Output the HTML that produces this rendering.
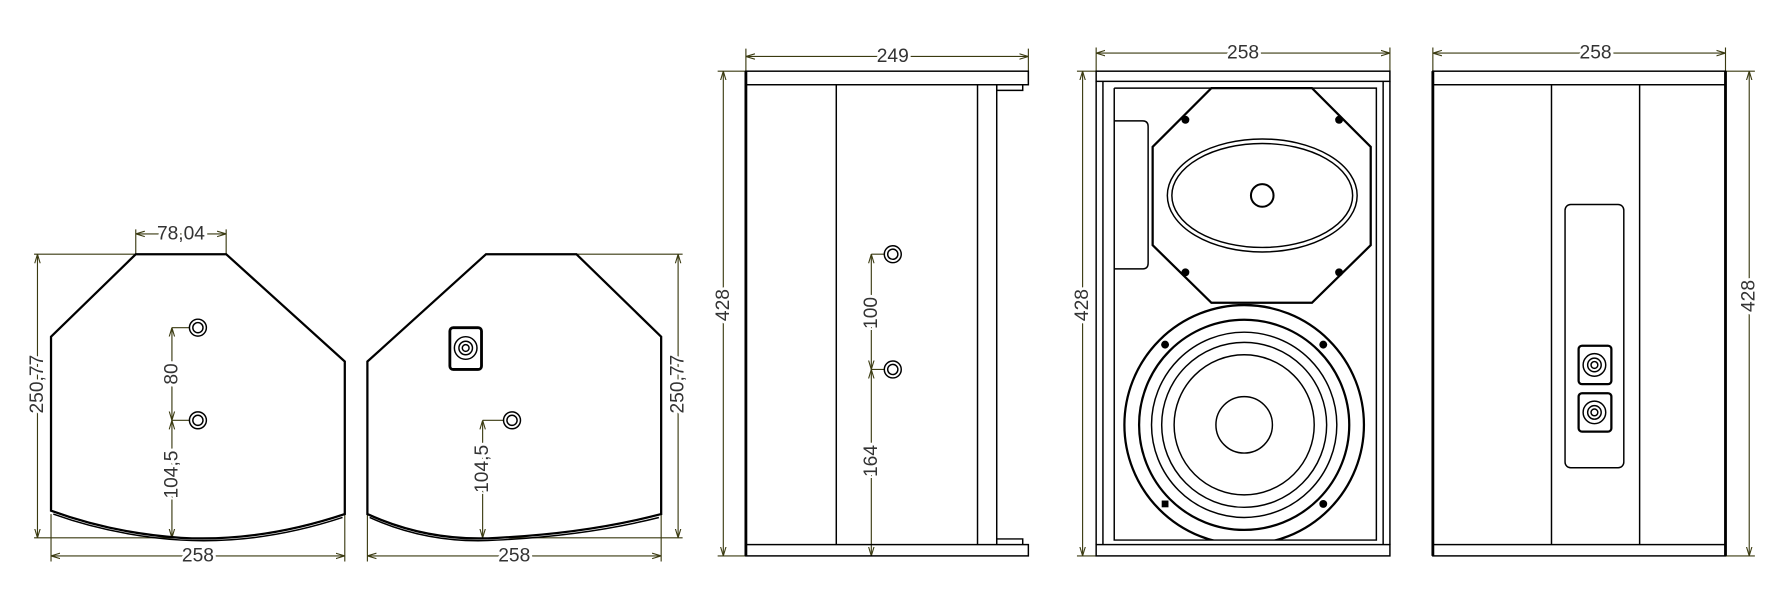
<!DOCTYPE html>
<html><head><meta charset="utf-8"><style>html,body{margin:0;padding:0;background:#fff}svg{display:block}</style></head>
<body>
<svg width="1772" height="609" viewBox="0 0 1568 539" xmlns="http://www.w3.org/2000/svg">
<defs>
<marker id="a" viewBox="0 0 10 10" refX="10" refY="5" markerWidth="8" markerHeight="8" orient="auto-start-reverse" markerUnits="userSpaceOnUse"><path d="M0,2 L10,5 L0,8" fill="none" stroke="#3a3a10" stroke-width="1.2"/></marker>
</defs>
<rect width="1568" height="539" fill="#fff"/>
<g fill="none" stroke="#3a3a10" stroke-width="1">
<!-- profile 1 dims -->
<path d="M120,225V203M200,225V203M30,225H120M30,476H160M45,455V497M305,455V497"/>
<path d="M120,207H200" marker-start="url(#a)" marker-end="url(#a)"/>
<path d="M33,225V476" marker-start="url(#a)" marker-end="url(#a)"/>
<path d="M45,492H305" marker-start="url(#a)" marker-end="url(#a)"/>
<path d="M152,290V372" marker-start="url(#a)" marker-end="url(#a)"/>
<path d="M152,372V476" marker-start="url(#a)" marker-end="url(#a)"/>
<path d="M152,290H168M152,372H168"/>
<!-- profile 2 dims -->
<path d="M510,225H604M440,476H604M325,455V497M585,455V497"/>
<path d="M600,225V476" marker-start="url(#a)" marker-end="url(#a)"/>
<path d="M325,492H585" marker-start="url(#a)" marker-end="url(#a)"/>
<path d="M427,372V476" marker-start="url(#a)" marker-end="url(#a)"/>
<path d="M427,372H446"/>
<!-- side dims -->
<path d="M660,63V43M910,72V43M635,63H660M635,492H660"/>
<path d="M660,50H910" marker-start="url(#a)" marker-end="url(#a)"/>
<path d="M640,63V492" marker-start="url(#a)" marker-end="url(#a)"/>
<path d="M771,225V327" marker-start="url(#a)" marker-end="url(#a)"/>
<path d="M771,327V492" marker-start="url(#a)" marker-end="url(#a)"/>
<path d="M771,225H783M771,327H783"/>
<!-- front dims -->
<path d="M970,63V42M1230,72V42M953,63H970M953,492H970"/>
<path d="M970,47H1230" marker-start="url(#a)" marker-end="url(#a)"/>
<path d="M958,63V492" marker-start="url(#a)" marker-end="url(#a)"/>
<!-- back dims -->
<path d="M1268,63V42M1527,72V42M1527,63H1553M1527,492H1553"/>
<path d="M1268,47H1527" marker-start="url(#a)" marker-end="url(#a)"/>
<path d="M1548,63V492" marker-start="url(#a)" marker-end="url(#a)"/>
</g>
<g font-family="Liberation Sans, sans-serif" font-size="17" fill="#333" text-anchor="middle" stroke="#fff" stroke-width="5" paint-order="stroke" dominant-baseline="central">
<text x="160" y="207">78,04</text>
<text x="175" y="492">258</text>
<text x="455" y="492">258</text>
<text x="790" y="50">249</text>
<text x="1100" y="47">258</text>
<text x="1412" y="47">258</text>
<text transform="translate(33,340) rotate(-90)">250,77</text>
<text transform="translate(600,340) rotate(-90)">250,77</text>
<text transform="translate(152,331) rotate(-90)">80</text>
<text transform="translate(152,420) rotate(-90)">104,5</text>
<text transform="translate(427,415) rotate(-90)">104,5</text>
<text transform="translate(640,270) rotate(-90)">428</text>
<text transform="translate(958,270) rotate(-90)">428</text>
<text transform="translate(1548,262) rotate(-90)">428</text>
<text transform="translate(771,277) rotate(-90)">100</text>
<text transform="translate(771,408) rotate(-90)">164</text>
</g>
<g fill="none" stroke="#000" stroke-width="1.3">
<!-- profile 1 -->
<path d="M120,225H200L305,320V455Q230,480 160,476Q100,472 45,452V298Z" stroke-width="2"/>
<path d="M47,455Q100,474 160,478Q230,482 303,458"/>
<circle cx="175" cy="290" r="7.5"/><circle cx="175" cy="290" r="4.5"/>
<circle cx="175" cy="372" r="7.5"/><circle cx="175" cy="372" r="4.5"/>
<!-- profile 2 -->
<path d="M430,225H510L585,298V455Q520,472 440,476Q380,480 325,455V320Z" stroke-width="2"/>
<path d="M327,458Q380,482 440,478Q520,474 583,458"/>
<rect x="398" y="290" width="28" height="37" rx="3" stroke-width="2.5"/>
<circle cx="412" cy="308" r="10"/><circle cx="412" cy="308" r="6"/><circle cx="412" cy="308" r="3"/>
<circle cx="453" cy="372" r="7.5"/><circle cx="453" cy="372" r="4.5"/>
<!-- side view -->
<rect x="660" y="63" width="250" height="12"/>
<rect x="660" y="482" width="250" height="10"/>
<path d="M882,75V80H905V75M882,482V477H905V482"/>
<path d="M660,63V492" stroke-width="2.5"/>
<path d="M740,75V482M865,75V482M882,75V482"/>
<circle cx="790" cy="225" r="7.5"/><circle cx="790" cy="225" r="4.5"/>
<circle cx="790" cy="327" r="7.5"/><circle cx="790" cy="327" r="4.5"/>
<!-- front view -->
<rect x="970" y="63" width="260" height="9"/>
<rect x="970" y="482" width="260" height="10"/>
<path d="M970,72V482M976,72V482M986,78V478H1218V78H986M1224,72V482M1230,72V482"/>
<path d="M986,107H1011Q1016,107 1016,112V233Q1016,238 1011,238H986"/>
<path d="M1072,78H1161L1213,130V217L1161,268H1072L1020,217V130Z" stroke-width="2"/>
<ellipse cx="1117" cy="173" rx="84" ry="50"/><ellipse cx="1117" cy="173" rx="80" ry="46"/>
<circle cx="1117" cy="173" r="10" stroke-width="1.8"/>
<g fill="#000" stroke="none"><circle cx="1049" cy="106" r="3.5"/><circle cx="1185" cy="106" r="3.5"/><circle cx="1049" cy="241" r="3.5"/><circle cx="1185" cy="241" r="3.5"/>
<circle cx="1031" cy="305" r="3.5"/><circle cx="1171" cy="305" r="3.5"/><rect x="1028" y="443" width="6" height="6"/><circle cx="1171" cy="446" r="3.5"/></g>
<clipPath id="c"><rect x="986" y="260" width="232" height="218"/></clipPath>
<g clip-path="url(#c)">
<circle cx="1101" cy="376" r="106" stroke-width="2"/>
<circle cx="1101" cy="376" r="93" stroke-width="2"/>
<circle cx="1101" cy="376" r="82"/>
<circle cx="1101" cy="376" r="73"/>
<circle cx="1101" cy="376" r="62"/>
<circle cx="1101" cy="376" r="25"/>
</g>
<!-- back view -->
<rect x="1268" y="63" width="259" height="12"/>
<rect x="1268" y="482" width="259" height="10"/>
<path d="M1268,63V492M1527,63V492" stroke-width="2.5"/>
<path d="M1373,75V482M1451,75V482"/>
<rect x="1385" y="181" width="52" height="233" rx="5"/>
<rect x="1397" y="306" width="29" height="34" rx="3" stroke-width="2"/>
<circle cx="1411" cy="323" r="10"/><circle cx="1411" cy="323" r="6"/><circle cx="1411" cy="323" r="3"/>
<rect x="1397" y="348" width="29" height="34" rx="3" stroke-width="2"/>
<circle cx="1411" cy="365" r="10"/><circle cx="1411" cy="365" r="6"/><circle cx="1411" cy="365" r="3"/>
</g>
</svg>
</body></html>
